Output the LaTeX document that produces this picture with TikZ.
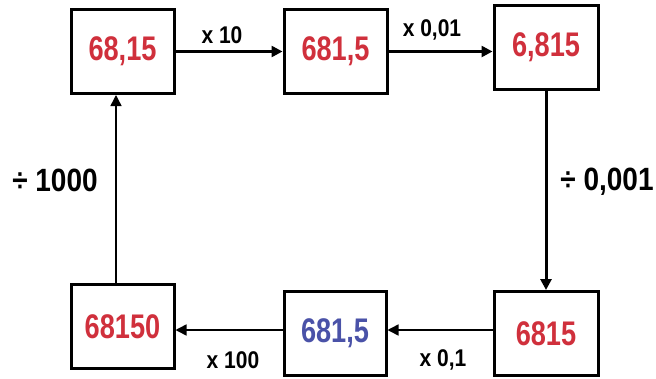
\documentclass[tikz,border=0pt]{standalone}
\usepackage{fontspec}
\usepackage{graphicx}
\setmainfont{Liberation Sans}
\usetikzlibrary{arrows.meta}
\definecolor{numred}{HTML}{D0303C}
\definecolor{numblue}{HTML}{4A52A8}
\newcommand\tallnum[1]{\scalebox{0.97}[1.22]{#1}}
\newcommand\talllab[1]{\scalebox{1}[1.15]{#1}}
\begin{document}
\begin{tikzpicture}[x=1pt,y=-1pt,
  box/.style={draw=black,line width=3pt,fill=white,minimum width=#1,minimum height=84pt,inner sep=0pt,
    font=\fontsize{28}{30}\selectfont\bfseries},
  box/.default=103pt,
  lab/.style={font=\fontsize{21}{24}\selectfont\bfseries,inner sep=0pt},
  biglab/.style={font=\fontsize{28}{30}\selectfont\bfseries,inner sep=0pt},
  arr/.style={line width=#1,-{Triangle[length=11pt,width=11pt]}},
  arr/.default=2.5pt]
\useasboundingbox (0,0) rectangle (656,378);
\node[box,text=numred] (b1) at (122.5,51.5) {\tallnum{68,15}};
\node[box,text=numred] (b2) at (335.5,51.5) {\tallnum{681,5}};
\node[box=104pt,text=numred] (b3) at (546,47) {\tallnum{6,815}};
\node[box=104pt,text=numred] (b6) at (546,333.5) {\tallnum{6815}};
\node[box=102pt,text=numblue] (b5) at (335,333.5) {\tallnum{681,5}};
\node[box,text=numred] (b4) at (122.5,326.5) {\tallnum{68150}};
\draw[arr] (b1) -- (b2);
\draw[arr] (b2.east) -- (b2.east -| b3.west);
\draw[arr=3pt] (b3.south) -- (b6.north);
\draw[arr=1.5pt] ([yshift=3.5pt]b6.west) -- ([yshift=3.5pt]b6.west -| b5.east);
\draw[arr=1.5pt] ([yshift=3.5pt]b5.west) -- ([yshift=3.5pt]b5.west -| b4.east);
\draw[arr=1.5pt] ([xshift=-6.5pt]b4.north) -- ([xshift=-6.5pt]b4.north |- b1.south);
\node[lab] (l1) at (222,35) {\talllab{x 10}};
\node[lab] (l2) at (432,30) {\talllab{x 0,01}};
\node[lab] (l3) at (443,360) {\talllab{x 0,1}};
\node[lab] (l4) at (233,360) {\talllab{x 100}};
\node[biglab] (l5) at (55,180) {\talllab{÷ 1000}};
\node[biglab] (l6) at (607,182) {\talllab{÷ 0,001}};
\end{tikzpicture}
\end{document}
